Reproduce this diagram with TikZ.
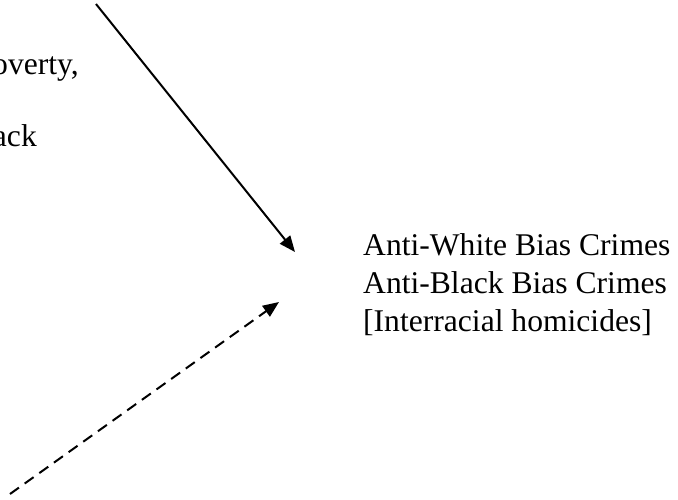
\documentclass[tikz,border=0pt]{standalone}
\usepackage{fontspec}
\setmainfont{Liberation Serif}
\usetikzlibrary{arrows.meta}
\begin{document}
\begin{tikzpicture}[x=1pt,y=-1pt,
  lbl/.style={inner sep=0pt,font=\fontsize{31.6}{38}\selectfont},
  conn/.style={line width=2pt,-{Triangle[length=16pt,width=13pt]}},
  dconn/.style={conn,dash pattern=on 11pt off 7pt}]
\useasboundingbox (0,0) rectangle (678,499);
\node[lbl,anchor=base east] (p1) at (79,74) {overty,};
\node[lbl,anchor=base east] (p2) at (37,146) {ack};
\node[lbl,anchor=base west] (w1) at (363,255) {Anti-White Bias Crimes};
\node[lbl,anchor=base west] (w2) at (363,293) {Anti-Black Bias Crimes};
\node[lbl,anchor=base west] (w3) at (363,331) {[Interracial homicides]};
\coordinate (s1) at (96,4);
\coordinate (t1) at (295,252);
\coordinate (s2) at (10,494);
\coordinate (t2) at (279,302);
\draw[conn] (s1) -- (t1);
\draw[dconn] (s2) -- (t2);
\end{tikzpicture}
\end{document}
